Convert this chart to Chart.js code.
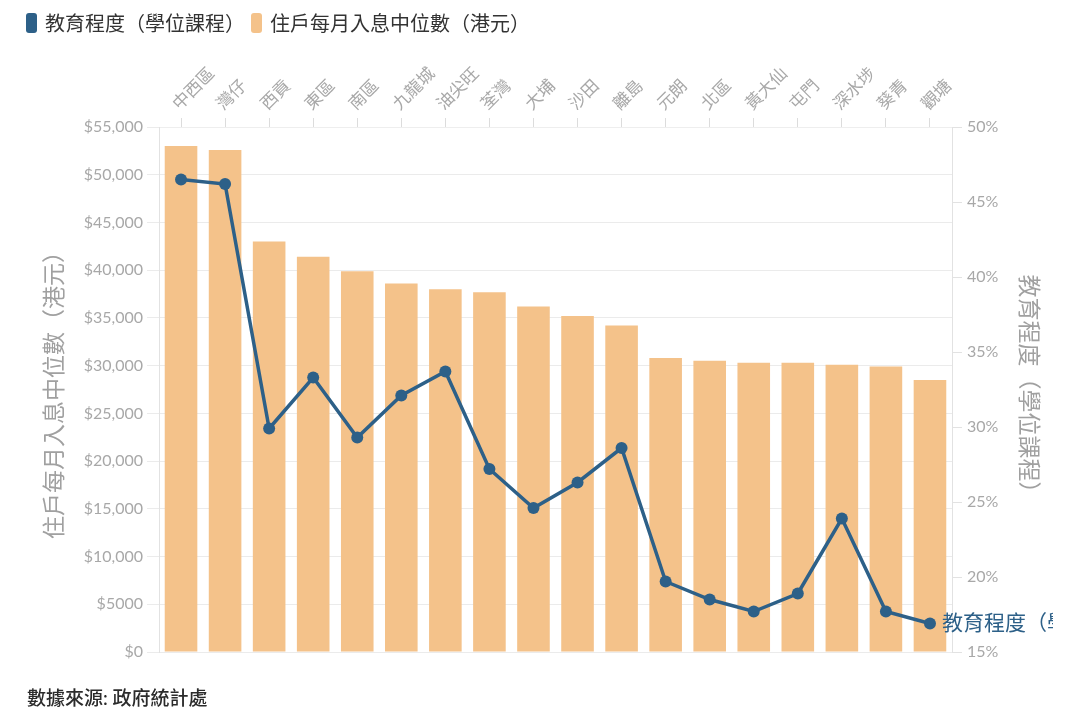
<!DOCTYPE html>
<html>
<head>
<meta charset="utf-8">
<script src="https://cdn.jsdelivr.net/npm/chart.js@4"></script>
<style>
  html, body { margin: 0; padding: 0; background: #fff; }
  #wrap { position: relative; width: 1080px; height: 723px; }
  #legend { position: absolute; left: 26px; top: 8px; display: flex; gap: 6px;
    font: 20px Lato, "Noto Sans CJK TC", sans-serif; color: #333; }
  .item { display: flex; align-items: center; gap: 8px; }
  .box { width: 11px; height: 20px; border-radius: 3px; }
  #source { position: absolute; left: 27px; top: 683px;
    font: 500 19px Lato, "Noto Sans CJK TC", sans-serif; color: #2b2b2b; }
</style>
</head>
<body>
<div id="wrap">
  <canvas id="chart" width="1080" height="723"></canvas>
  <div id="legend"></div>
  <div id="source">數據來源: 政府統計處</div>
</div>
<script>
// ====== DATA ======
const districts = ["中西區", "灣仔", "西貢", "東區", "南區", "九龍城", "油尖旺", "荃灣", "大埔",
  "沙田", "離島", "元朗", "北區", "黃大仙", "屯門", "深水埗", "葵青", "觀塘"];
// median monthly household income (HK$)
const income = [53000, 52600, 43000, 41400, 39900, 38600, 38000, 37700, 36200,
  35200, 34200, 30800, 30500, 30300, 30300, 30100, 29900, 28500];
// share with degree education (%)
const degreePct = [46.5, 46.2, 29.9, 33.3, 29.3, 32.1, 33.7, 27.2, 24.6,
  26.3, 28.6, 19.7, 18.5, 17.7, 18.9, 23.9, 17.7, 16.9];

const eduLabel = "教育程度（學位課程）";
const incomeLabel = "住戶每月入息中位數（港元）";

const BLUE = "#2d6088";
const ORANGE = "#f4c28a";
const FONT = "Lato, 'Noto Sans CJK TC', sans-serif";

// ====== UTILS ======
const fmtDollar = v => v < 10000 ? "$" + v : "$" + Number(v).toLocaleString("en-US");

// label at the end of the line (cut off at the right, like the original)
const endLabel = {
  id: "endLabel",
  afterDatasetsDraw(chart) {
    const meta = chart.getDatasetMeta(0);
    const last = meta.data[meta.data.length - 1];
    if (!last) return;
    const ctx = chart.ctx;
    ctx.save();
    ctx.beginPath();
    ctx.rect(0, 0, 1053, chart.height);
    ctx.clip();
    ctx.font = "21px " + FONT;
    ctx.fillStyle = BLUE;
    ctx.textBaseline = "middle";
    ctx.textAlign = "left";
    ctx.fillText(eduLabel, last.x + 12, last.y);
    ctx.restore();
  }
};

const chart = new Chart(document.getElementById("chart"), {
  type: "bar",
  data: {
    labels: districts,
    datasets: [
      {
        type: "line",
        label: eduLabel,
        data: degreePct,
        yAxisID: "y1",
        borderColor: BLUE,
        backgroundColor: BLUE,
        borderWidth: 3.5,
        pointRadius: 6,
        pointBackgroundColor: BLUE,
        pointBorderWidth: 0,
        tension: 0
      },
      {
        label: incomeLabel,
        data: income,
        yAxisID: "y",
        backgroundColor: ORANGE,
        categoryPercentage: 1,
        barPercentage: 0.74
      }
    ]
  },
  options: {
    responsive: false,
    animation: false,
    layout: { padding: { left: 0, right: 0, top: 0, bottom: 71 } },
    plugins: {
      legend: { display: false },
      tooltip: { enabled: false }
    },
    scales: {
      x: {
        position: "top",
        grid: { drawOnChartArea: false, offset: false, tickLength: 9, color: "#dcdcdc" },
        border: { color: "#eeeeee" },
        ticks: { minRotation: 45, maxRotation: 45, padding: 4, labelOffset: 9, color: "#a8a8a8",
          font: { family: FONT, size: 17 } },
        afterFit: s => { s.height = 127; }
      },
      y: {
        position: "left",
        min: 0, max: 55000,
        ticks: { stepSize: 5000, callback: fmtDollar, color: "#a8a8a8", padding: 4,
          font: { family: FONT, size: 16 } },
        grid: { color: "#ebebeb", tickLength: 12 },
        border: { color: "#e2e2e2" },
        title: { display: true, text: incomeLabel, color: "#a0a0a0",
          font: { family: FONT, size: 23 }, padding: { top: 41, bottom: 0 } },
        afterFit: s => { s.width = 159; }
      },
      y1: {
        position: "right",
        min: 15, max: 50,
        ticks: { stepSize: 5, callback: v => v + "%", color: "#a8a8a8", padding: 5,
          font: { family: FONT, size: 16 } },
        grid: { drawOnChartArea: false, tickLength: 10, color: "#e2e2e2" },
        border: { color: "#e2e2e2" },
        title: { display: true, text: eduLabel, color: "#a0a0a0",
          font: { family: FONT, size: 23 }, padding: { top: 38, bottom: 0 } },
        afterFit: s => { s.width = 128; }
      }
    }
  },
  plugins: [endLabel]
});

// ====== LEGEND ======
const legend = document.getElementById("legend");
chart.data.datasets.forEach(ds => {
  const item = document.createElement("div");
  item.className = "item";
  const box = document.createElement("span");
  box.className = "box";
  box.style.background = ds.type === "line" ? ds.borderColor : ds.backgroundColor;
  const txt = document.createElement("span");
  txt.textContent = ds.label;
  item.appendChild(box);
  item.appendChild(txt);
  legend.appendChild(item);
});
</script>
</body>
</html>
